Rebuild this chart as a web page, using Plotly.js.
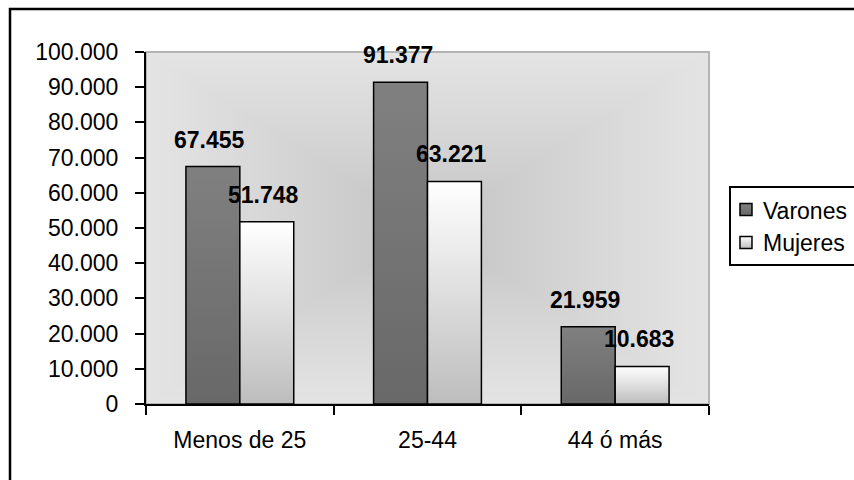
<!DOCTYPE html>
<html>
<head>
<meta charset="utf-8">
<script src="https://cdn.plot.ly/plotly-3.0.1.min.js"></script>
<style>
html,body{margin:0;padding:0;background:#fff;}
#chart{width:854px;height:480px;}
</style>
</head>
<body>
<div id="chart"></div>
<script>
// ---- data ----
const categories = ["Menos de 25", "25-44", "44 ó más"];
const varones = [67455, 91377, 21959];
const mujeres = [51748, 63221, 10683];
const seriesNames = ["Varones", "Mujeres"];
const yTickVals = [0, 10000, 20000, 30000, 40000, 50000, 60000, 70000, 80000, 90000, 100000];

// ---- styling ----
const FONT = "Liberation Sans, Arial, sans-serif";
const FS = 23;
const M = {l: 146, r: 145, t: 52, b: 76, autoexpand: false};
const PW = 854 - M.l - M.r, PH = 480 - M.t - M.b;

// rectangular "from center" gradient background for the plot area
function bgImage() {
  const c = document.createElement('canvas');
  c.width = PW; c.height = PH;
  const ctx = c.getContext('2d');
  const img = ctx.createImageData(PW, PH);
  const cx = PW / 2, cy = PH / 2;
  for (let y = 0; y < PH; y++) {
    for (let x = 0; x < PW; x++) {
      const t = Math.min(1, Math.max(Math.abs(x - cx) / cx, Math.abs(y - cy) / cy));
      const v = Math.round(193 + (228 - 193) * Math.pow(t, 0.85));
      const i = (y * PW + x) * 4;
      img.data[i] = v; img.data[i + 1] = v; img.data[i + 2] = v; img.data[i + 3] = 255;
    }
  }
  ctx.putImageData(img, 0, 0);
  return c.toDataURL('image/png');
}

const barOffset = 27; // half bar width in px
const labelShift = 3;
function fmt(v) { return String(v).replace(/\B(?=(\d{3})+(?!\d))/g, '.'); }
const annotations = [];
categories.forEach((cat, i) => {
  annotations.push({x: cat, y: varones[i], xref: 'x', yref: 'y', text: '<b>' + fmt(varones[i]) + '</b>',
    showarrow: false, xshift: -barOffset - labelShift, yshift: 27, yanchor: 'middle',
    font: {family: FONT, size: FS, color: '#000'}});
  annotations.push({x: cat, y: mujeres[i], xref: 'x', yref: 'y', text: '<b>' + fmt(mujeres[i]) + '</b>',
    showarrow: false, xshift: barOffset - labelShift, yshift: 27, yanchor: 'middle',
    font: {family: FONT, size: FS, color: '#000'}});
});

const traces = [
  {type: 'bar', name: seriesNames[0], x: categories, y: varones,
   marker: {color: '#747474', line: {color: '#000', width: 1.5}}, hoverinfo: 'none'},
  {type: 'bar', name: seriesNames[1], x: categories, y: mujeres,
   marker: {color: '#e6e6e6', line: {color: '#000', width: 1.5}}, hoverinfo: 'none'}
];

const layout = {
  width: 854, height: 480,
  margin: M,
  paper_bgcolor: '#fff',
  plot_bgcolor: 'rgba(0,0,0,0)',
  separators: ',.',
  font: {family: FONT, size: FS, color: '#000'},
  barmode: 'group',
  bargap: 0.4255,
  bargroupgap: 0,
  showlegend: true,
  legend: {x: 1.0355, y: 0.619, xanchor: 'left', yanchor: 'top',
    bordercolor: '#000', borderwidth: 2, bgcolor: '#fff',
    font: {family: FONT, size: FS, color: '#000'}, itemwidth: 30, tracegroupgap: 0},
  xaxis: {type: 'category', tickson: 'boundaries', ticks: 'outside', ticklen: 9, tickwidth: 2,
    tickcolor: '#000', showline: true, linecolor: '#000', linewidth: 2, showgrid: false,
    zeroline: false, ticklabelstandoff: 14, tickfont: {family: FONT, size: FS, color: '#000'}},
  yaxis: {range: [0, 100000], tickvals: yTickVals, tickformat: ',.0f', ticks: 'outside', ticklen: 9,
    tickwidth: 2, tickcolor: '#000', showline: true, linecolor: '#000', linewidth: 2,
    showgrid: false, zeroline: false, ticklabelstandoff: 12,
    tickfont: {family: FONT, size: FS, color: '#000'}},
  images: [{source: bgImage(), xref: 'paper', yref: 'paper', x: 0, y: 1, sizex: 1, sizey: 1,
    xanchor: 'left', yanchor: 'top', sizing: 'stretch', layer: 'below'}],
  shapes: [
    {type: 'rect', xref: 'paper', yref: 'paper', x0: 0, x1: 1, y0: 0, y1: 1,
     line: {color: '#b4b4b4', width: 2}, layer: 'below'},
    {type: 'rect', xref: 'paper', yref: 'paper', x0: (10 - M.l) / PW, x1: 1.6,
     y0: -0.5, y1: (480 - M.b - 9) / PH, line: {color: '#000', width: 2.5}}
  ],
  annotations: annotations
};

Plotly.newPlot('chart', traces, layout, {staticPlot: true, displayModeBar: false}).then(gd => {
  const NS = 'http://www.w3.org/2000/svg';
  const svg = gd.querySelector('.main-svg');
  let defs = svg.querySelector('defs');
  if (!defs) { defs = document.createElementNS(NS, 'defs'); svg.insertBefore(defs, svg.firstChild); }
  function grad(id, top, bottom) {
    const g = document.createElementNS(NS, 'linearGradient');
    g.setAttribute('id', id);
    g.setAttribute('x1', '0'); g.setAttribute('y1', '0');
    g.setAttribute('x2', '0'); g.setAttribute('y2', '1');
    [[0, top], [1, bottom]].forEach(([o, c]) => {
      const s = document.createElementNS(NS, 'stop');
      s.setAttribute('offset', o); s.setAttribute('stop-color', c);
      g.appendChild(s);
    });
    defs.appendChild(g);
  }
  grad('gVar', '#808080', '#686868');
  grad('gMuj', '#ffffff', '#bdbdbd');
  const ids = ['gVar', 'gMuj'];
  gd.querySelectorAll('.barlayer .trace').forEach((tr, i) => {
    tr.querySelectorAll('path').forEach(p => { p.style.fill = 'url(#' + ids[i] + ')'; });
  });
  gd.querySelectorAll('.legend .traces').forEach((tr, i) => {
    tr.querySelectorAll('.legendpoints path').forEach(p => { p.style.fill = 'url(#' + ids[i] + ')'; });
    const lp = tr.querySelector('.legendpoints');
    if (lp) lp.setAttribute('transform', 'translate(-5,0)');
    const txt = tr.querySelector('.legendtext');
    if (txt) txt.setAttribute('x', parseFloat(txt.getAttribute('x') || 0) - 8);
  });
});
</script>
</body>
</html>
